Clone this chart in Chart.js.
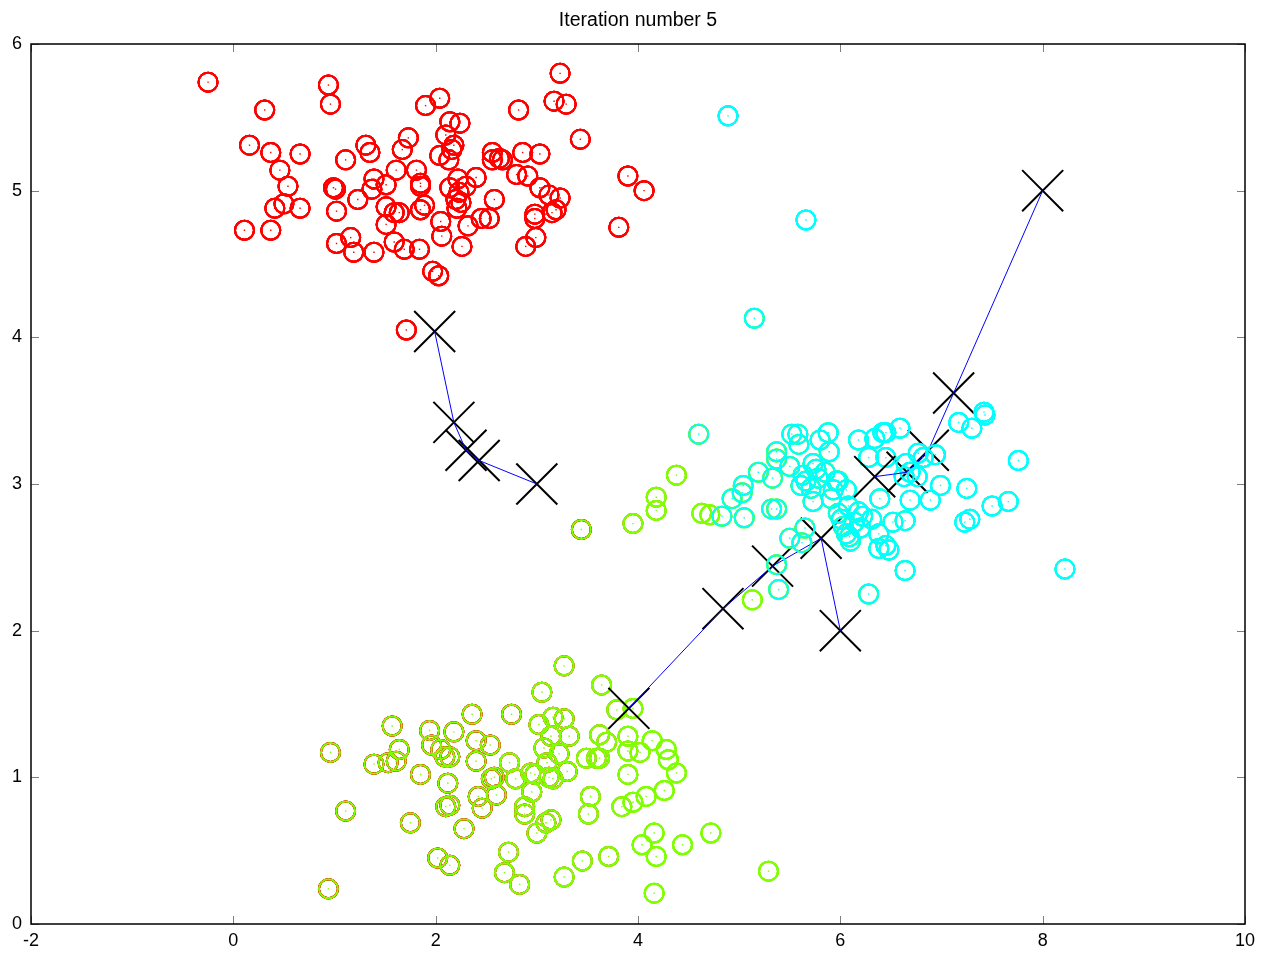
<!DOCTYPE html>
<html><head><meta charset="utf-8">
<script src="https://cdn.jsdelivr.net/npm/chart.js@4"></script>
<style>html,body{margin:0;padding:0;background:#fff;overflow:hidden;} canvas{display:block;}</style>
</head><body>
<canvas id="c" width="1270" height="954"></canvas>
<script>
const titleText = 'Iteration number 5';
const xTickValues = [-2, 0, 2, 4, 6, 8, 10];
const yTickValues = [0, 1, 2, 3, 4, 5, 6];

const redPoints = [
[-0.25,5.74],[0.94,5.72],[0.96,5.59],[0.31,5.55],[0.16,5.31],[0.37,5.26],[0.66,5.25],[0.46,5.14],[0.54,5.03],[0.41,4.88],
[0.50,4.91],[0.66,4.88],[0.11,4.73],[0.37,4.73],[1.11,5.21],[1.31,5.31],[1.35,5.26],[0.99,5.02],[1.01,5.01],[1.02,4.86],
[1.23,4.94],[1.39,5.08],[1.37,5.01],[1.51,5.04],[1.61,5.14],[1.73,5.36],[1.67,5.28],[1.51,4.89],[1.59,4.85],[1.51,4.77],
[1.02,4.64],[1.16,4.68],[1.19,4.58],[1.39,4.58],[1.59,4.65],[1.69,4.60],[1.71,4.05],
[3.23,5.80],[3.17,5.61],[3.29,5.59],[2.82,5.55],[3.43,5.35],[3.90,5.10],[4.06,5.00],[3.81,4.75],[2.04,5.63],[1.90,5.58],
[2.14,5.47],[2.24,5.46],[2.10,5.38],[2.18,5.31],[2.16,5.28],[2.04,5.24],[2.13,5.21],[2.56,5.26],[2.63,5.22],[2.56,5.21],
[2.66,5.21],[2.86,5.26],[3.03,5.25],[2.80,5.11],[2.91,5.10],[3.03,5.02],[3.12,4.97],[3.23,4.95],[3.19,4.87],[3.15,4.85],
[2.98,4.84],[2.98,4.81],[2.99,4.68],[2.89,4.62],[1.81,5.14],[1.85,5.03],[1.85,5.05],[1.89,4.90],[1.85,4.87],[1.64,4.85],
[2.14,5.02],[2.22,5.08],[2.30,5.03],[2.40,5.09],[2.23,4.99],[2.20,4.94],[2.25,4.92],[2.21,4.88],[2.58,4.94],[2.05,4.79],
[2.32,4.76],[2.53,4.81],[2.45,4.81],[2.06,4.69],[2.26,4.62],[1.84,4.60],[1.97,4.45],[2.03,4.42]
];

const greenPoints = [
[0.96,1.17],[1.11,0.77],[0.94,0.24],[1.57,1.35],[1.64,1.19],[1.39,1.09],[1.53,1.10],[1.61,1.11],[1.85,1.02],[1.75,0.69],
[1.94,1.32],[1.96,1.22],[2.18,1.31],[2.09,1.14],[2.05,1.19],[2.14,1.14],[2.12,0.96],[2.10,0.80],[2.14,0.81],[2.02,0.45],
[2.14,0.40],[2.28,0.65],[2.36,1.43],[2.40,1.25],[2.54,1.22],[2.40,1.11],[2.75,1.43],[3.05,1.58],[3.02,1.36],[3.16,1.41],
[3.14,1.28],[3.07,1.20],[2.73,1.10],[2.79,0.99],[2.55,0.99],[2.58,1.00],[2.60,0.88],[2.42,0.87],[2.46,0.79],[2.94,1.03],
[2.98,1.02],[2.95,0.90],[2.88,0.80],[2.88,0.75],[3.00,0.62],[3.09,0.69],[3.14,0.71],[3.10,1.10],[3.12,1.00],[2.72,0.49],
[2.68,0.35],[2.83,0.27],[3.27,1.40],[3.22,1.16],[3.30,1.04],[3.16,0.99],
[3.27,1.76],[3.64,1.63],[3.79,1.46],[3.95,1.47],[3.62,1.29],[3.69,1.24],[3.90,1.28],[4.14,1.25],[4.28,1.19],[4.30,1.12],
[4.38,1.03],[3.90,1.18],[4.02,1.17],[3.90,1.02],[4.26,0.91],[4.08,0.87],[3.95,0.83],[3.84,0.80],[3.53,0.87],[3.51,0.75],
[3.49,1.13],[3.59,1.13],[3.62,1.13],[3.32,1.28],[4.16,0.62],[4.04,0.54],[4.18,0.46],[4.44,0.54],[4.72,0.62],[3.71,0.46],
[3.45,0.43],[3.27,0.32],[4.16,0.21],[5.29,0.36],
[3.44,2.69],[3.95,2.73],[4.18,2.91],[4.18,2.82],[4.38,3.06],[4.63,2.80],[4.71,2.79],[5.13,2.21]
];

const cyanPoints = [
[4.89,5.51],[5.66,4.80],[5.15,4.13],[4.60,3.34],
[5.37,3.22],[5.37,3.17],[5.19,3.08],[5.33,3.04],[5.04,2.99],[5.03,2.94],[4.93,2.90],[4.83,2.78],[5.05,2.77],[5.32,2.83],
[5.37,2.83],[5.50,2.63],[5.65,2.70],[5.62,2.60],[5.37,2.45],[5.39,2.28],[6.28,2.25],[5.52,3.34],[5.58,3.34],[5.59,3.27],
[5.88,3.35],[5.80,3.30],[5.89,3.22],[5.50,3.12],[5.73,3.14],[5.76,3.10],[5.63,3.06],[5.66,3.02],[5.78,3.04],[5.71,2.97],
[5.61,2.99],[5.96,3.02],[6.06,2.96],[5.91,2.90],[5.73,2.88],[6.18,3.30],[6.34,3.31],[6.42,3.35],[6.28,3.18],[6.39,2.90],
[6.01,2.76],[6.03,2.71],[6.22,2.78],[6.06,2.66],[6.10,2.61],[6.20,2.70],[6.31,2.76],[6.38,2.66],[6.38,2.56],[6.45,2.58],
[7.42,3.49],[7.43,3.47],[7.17,3.42],[7.30,3.38],[7.76,3.16],[6.59,3.38],[6.45,3.35],[6.45,3.18],[6.77,3.21],[6.82,3.18],
[6.94,3.20],[6.69,3.08],[6.76,3.05],[6.63,3.05],[6.65,3.14],[6.99,2.99],[7.25,2.97],[6.69,2.89],[6.89,2.89],[7.50,2.85],
[7.66,2.88],[7.23,2.74],[7.28,2.76],[6.64,2.75],[6.52,2.74],[6.09,2.64],[6.48,2.55],[6.64,2.41],[8.22,2.42],[5.98,3.02],
[5.93,2.96],[6.08,2.85],[6.18,2.81],[5.85,3.08],[6.14,2.74],[5.98,2.80]
];

// centroid positions at iterations 1..5
const centroid1Path = [[3.00,3.00],[2.43,3.16],[2.30,3.23],[2.18,3.42],[1.99,4.04]];
const centroid2Path = [[6.00,2.00],[5.81,2.63],[5.33,2.44],[4.84,2.15],[3.91,1.47]];
const centroid3Path = [[8.00,5.00],[7.12,3.62],[6.87,3.23],[6.66,3.08],[6.34,3.05]];

const clusterColors = ['#ff0000', '#80ff00', '#00ffff'];

const toXY = a => a.map(p => ({x: p[0], y: p[1]}));
const allPoints = redPoints.concat(greenPoints, cyanPoints);
const paths = [centroid1Path, centroid2Path, centroid3Path];
const nIter = centroid1Path.length;

function circleDS(pts, color) {
  return {data: toXY(pts), pointStyle: 'circle', pointRadius: 9.5, pointBorderWidth: 2,
    borderColor: color, pointBorderColor: color, backgroundColor: 'rgba(0,0,0,0)', pointBackgroundColor: 'rgba(0,0,0,0)', showLine: false};
}
function dotDS(pts, color) {
  return {data: toXY(pts), pointStyle: 'rect', pointRadius: 1, pointBorderWidth: 0,
    borderColor: color, pointBackgroundColor: color, backgroundColor: color, showLine: false};
}
function crossDS(pts) {
  return {data: toXY(pts), pointStyle: 'crossRot', pointRadius: 29, pointBorderWidth: 2,
    borderColor: '#000', pointBorderColor: '#000', showLine: false};
}
function lineDS(pts) {
  return {data: toXY(pts), showLine: true, pointRadius: 0, borderColor: '#0000ff', borderWidth: 1, fill: false};
}

const datasets = [];
for (let k = 0; k < nIter; k++) {
  let groups;
  if (k < nIter - 1) {
    groups = [[], [], []];
    allPoints.forEach(p => {
      let best = 0, bd = Infinity;
      paths.forEach((path, j) => {
        const d = (p[0] - path[k][0]) ** 2 + (p[1] - path[k][1]) ** 2;
        if (d < bd) { bd = d; best = j; }
      });
      groups[best].push(p);
    });
  } else {
    groups = [redPoints, greenPoints, cyanPoints];
  }
  groups.forEach((g, j) => datasets.push(circleDS(g, clusterColors[j])));
  if (k === nIter - 1) groups.forEach((g, j) => datasets.push(dotDS(g, clusterColors[j])));
  datasets.push(crossDS(paths.map(p => p[k])));
  if (k > 0) paths.forEach(path => datasets.push(lineDS([path[k - 1], path[k]])));
}
datasets.forEach((d, i) => { d.order = datasets.length - i; });

const FONT = 'Liberation Sans, Arial, Helvetica, sans-serif';

const framePlugin = {
  id: 'frame',
  afterDatasetsDraw(chart) {
    const ctx = chart.ctx, a = chart.chartArea;
    const xs = chart.scales.x, ys = chart.scales.y;
    ctx.save();
    ctx.strokeStyle = '#7f7f7f';
    ctx.lineWidth = 1;
    const tl = 8;
    xs.ticks.forEach(t => {
      const px = Math.round(xs.getPixelForValue(t.value)) + 0.5;
      ctx.beginPath();
      ctx.moveTo(px, a.bottom); ctx.lineTo(px, a.bottom - tl);
      ctx.moveTo(px, a.top); ctx.lineTo(px, a.top + tl);
      ctx.stroke();
    });
    ys.ticks.forEach(t => {
      const py = Math.round(ys.getPixelForValue(t.value)) + 0.5;
      ctx.beginPath();
      ctx.moveTo(a.left, py); ctx.lineTo(a.left + tl, py);
      ctx.moveTo(a.right, py); ctx.lineTo(a.right - tl, py);
      ctx.stroke();
    });
    ctx.strokeStyle = '#000';
    ctx.lineWidth = 1.5;
    ctx.strokeRect(a.left, a.top, a.right - a.left, a.bottom - a.top);
    ctx.fillStyle = '#000';
    ctx.font = '19.5px ' + FONT;
    ctx.textAlign = 'center';
    ctx.textBaseline = 'middle';
    ctx.fillText(titleText, (a.left + a.right) / 2, 21);
    ctx.restore();
  }
};

new Chart(document.getElementById('c'), {
  type: 'scatter',
  data: {datasets},
  options: {
    responsive: false,
    devicePixelRatio: 1,
    animation: false,
    events: [],
    layout: {autoPadding: false, padding: {top: 44, right: 25, left: 0, bottom: 0}},
    plugins: {legend: {display: false}, tooltip: {enabled: false}, title: {display: false}},
    scales: {
      x: {
        type: 'linear', min: -2, max: 10,
        afterBuildTicks: s => { s.ticks = xTickValues.map(v => ({value: v})); },
        afterFit: s => { s.height = 30; s.paddingLeft = 0; s.paddingRight = 0; },
        grid: {display: false, drawTicks: false},
        border: {display: false},
        ticks: {color: '#000', font: {size: 18, family: FONT}, padding: 6, maxRotation: 0, autoSkip: false}
      },
      y: {
        type: 'linear', min: 0, max: 6,
        afterBuildTicks: s => { s.ticks = yTickValues.map(v => ({value: v})); },
        afterFit: s => { s.width = 31; s.paddingTop = 0; s.paddingBottom = 0; },
        grid: {display: false, drawTicks: false},
        border: {display: false},
        ticks: {color: '#000', font: {size: 18, family: FONT}, padding: 9, autoSkip: false}
      }
    }
  },
  plugins: [framePlugin]
});
</script>
</body></html>
